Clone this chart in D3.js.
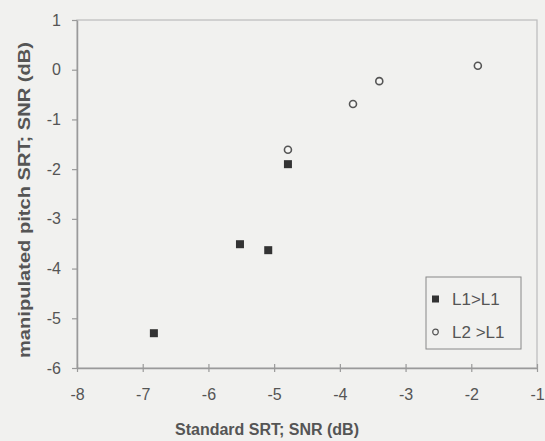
<!DOCTYPE html>
<html>
<head>
<meta charset="utf-8">
<script src="https://cdn.jsdelivr.net/npm/d3@7"></script>
<style>
  body { margin: 0; background: #f1f1ef; }
  svg { display: block; font-family: "Liberation Sans", Arial, sans-serif; }
</style>
</head>
<body>
<div id="chart"></div>
<script>
// Data
const l1X = [-6.83, -5.52, -5.09, -4.79];
const l1Y = [-5.30, -3.51, -3.63, -1.90];
const l2X = [-4.79, -3.80, -3.40, -1.90];
const l2Y = [-1.61, -0.69, -0.23, 0.08];
const xTicks = [-8, -7, -6, -5, -4, -3, -2, -1];
const yTicks = [1, 0, -1, -2, -3, -4, -5, -6];
const seriesNames = ["L1>L1", "L2 >L1"];

const width = 545, height = 441;
const margin = { top: 20, right: 8, bottom: 73, left: 77 };

const svg = d3.select("#chart").append("svg")
    .attr("width", width)
    .attr("height", height);

const x = d3.scaleLinear().domain([-8, -1]).range([margin.left, width - margin.right]);
const y = d3.scaleLinear().domain([-6, 1]).range([height - margin.bottom, margin.top]);

const textCol = "#555";
const lineCol = "#9a9a9a";
const fmt = d => String(d);

// Plot frame
svg.append("rect")
    .attr("x", x(-8)).attr("y", y(1))
    .attr("width", x(-1) - x(-8)).attr("height", y(-6) - y(1))
    .attr("fill", "none").attr("stroke", "#bbb").attr("stroke-width", 1.2);

// Axes
const xAxis = svg.append("g")
    .attr("transform", `translate(0,${y(-6)})`)
    .call(d3.axisBottom(x).tickValues(xTicks).tickFormat(fmt).tickSize(4).tickSizeOuter(0).tickPadding(17));
xAxis.selectAll(".tick line").attr("y1", -4);

const yAxis = svg.append("g")
    .attr("transform", `translate(${x(-8)},0)`)
    .call(d3.axisLeft(y).tickValues(yTicks).tickFormat(fmt).tickSize(5).tickSizeOuter(0).tickPadding(11));

[xAxis, yAxis].forEach(g => {
    g.select(".domain").attr("stroke", lineCol).attr("stroke-width", 1.5);
    g.selectAll(".tick line").attr("stroke", lineCol).attr("stroke-width", 1.2);
    g.selectAll(".tick text").attr("fill", textCol).style("font-size", "16px");
});

// Axis titles
svg.append("text")
    .attr("x", 267).attr("y", 435)
    .attr("text-anchor", "middle")
    .attr("fill", textCol)
    .style("font-size", "16px").style("font-weight", "bold")
    .text("Standard SRT; SNR (dB)");

svg.append("text")
    .attr("transform", "translate(30,200) rotate(-90)")
    .attr("x", -158)
    .attr("textLength", 316)
    .attr("lengthAdjust", "spacingAndGlyphs")
    .attr("fill", textCol)
    .style("font-size", "16px").style("font-weight", "bold")
    .text("manipulated pitch SRT; SNR (dB)");

// L1>L1 squares
svg.selectAll(".sq")
    .data(l1X.map((d, i) => [d, l1Y[i]]))
    .enter().append("rect")
    .attr("class", "sq")
    .attr("x", d => x(d[0]) - 4).attr("y", d => y(d[1]) - 4)
    .attr("width", 8).attr("height", 8)
    .attr("fill", "#333");

// L2>L1 circles
svg.selectAll(".ci")
    .data(l2X.map((d, i) => [d, l2Y[i]]))
    .enter().append("circle")
    .attr("class", "ci")
    .attr("cx", d => x(d[0])).attr("cy", d => y(d[1]))
    .attr("r", 3.5)
    .attr("fill", "#f6f6f4").attr("stroke", "#555").attr("stroke-width", 1.6);

// Legend
const legend = svg.append("g").attr("transform", "translate(426,277)");
legend.append("rect")
    .attr("width", 95).attr("height", 72)
    .attr("fill", "none").attr("stroke", "#888").attr("stroke-width", 1);

const items = legend.selectAll(".item")
    .data(seriesNames)
    .enter().append("g")
    .attr("transform", (d, i) => `translate(0,${22 + i * 33})`);

items.filter((d, i) => i === 0).append("rect")
    .attr("x", 6).attr("y", -3.5).attr("width", 7).attr("height", 7).attr("fill", "#333");
items.filter((d, i) => i === 1).append("circle")
    .attr("cx", 9.5).attr("cy", 0).attr("r", 2.8)
    .attr("fill", "none").attr("stroke", "#555").attr("stroke-width", 1.2);

items.append("text")
    .attr("x", 26).attr("y", 6)
    .attr("fill", textCol)
    .style("font-size", "17px")
    .text(d => d);
</script>
</body>
</html>
